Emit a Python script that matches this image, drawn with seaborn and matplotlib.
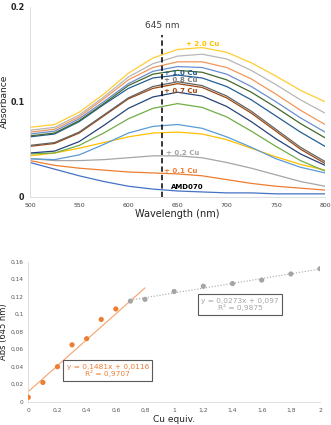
import numpy as np
import pandas as pd
import matplotlib
matplotlib.use("Agg")
import matplotlib.pyplot as plt
import seaborn as sns

sns.set_theme(style="white")
plt.rcParams['font.family'] = ['DejaVu Sans']

# ---------------- data: spectra ----------------
wavelengths = [500, 525, 550, 575, 600, 625, 650, 675, 700, 725, 750, 775, 800]
samples = ["AMD070", "0.1", "0.2", "0.3", "0.4", "0.5", "0.6", "0.7", "0.8",
           "1.0", "1.2", "1.4", "1.6", "1.8", "2.0"]
abs_amd070 = [.036, .029, .022, .016, .011, .008, .006, .005, .004, .004, .003, .003, .003]
abs_01 = [.038, .033, .030, .028, .026, .025, .024, .022, .018, .014, .011, .009, .007]
abs_02 = [.040, .038, .038, .039, .041, .043, .043, .041, .036, .030, .023, .016, .011]
abs_03 = [.043, .046, .051, .057, .063, .067, .068, .066, .060, .051, .042, .034, .028]
abs_04 = [.040, .039, .044, .055, .067, .074, .076, .072, .063, .052, .040, .031, .025]
abs_05 = [.045, .046, .054, .067, .082, .093, .098, .094, .084, .069, .053, .038, .027]
abs_06 = [.046, .048, .058, .075, .093, .105, .110, .106, .095, .079, .061, .045, .033]
abs_07 = [.053, .056, .067, .085, .103, .114, .119, .115, .104, .088, .069, .050, .035]
abs_08 = [.054, .057, .068, .086, .104, .116, .121, .117, .106, .090, .071, .052, .037]
abs_10 = [.063, .066, .079, .097, .114, .125, .128, .125, .116, .102, .085, .068, .053]
abs_12 = [.064, .067, .080, .098, .117, .129, .133, .131, .123, .110, .094, .077, .062]
abs_14 = [.066, .069, .082, .100, .119, .132, .137, .136, .129, .116, .100, .083, .068]
abs_16 = [.068, .071, .084, .103, .123, .136, .142, .142, .136, .124, .108, .091, .076]
abs_18 = [.070, .073, .086, .105, .126, .140, .148, .150, .145, .133, .118, .102, .088]
abs_20 = [.073, .076, .089, .108, .130, .146, .155, .157, .152, .141, .127, .112, .100]
spectra = [abs_amd070, abs_01, abs_02, abs_03, abs_04, abs_05, abs_06, abs_07,
           abs_08, abs_10, abs_12, abs_14, abs_16, abs_18, abs_20]
colors = ["#4472C4", "#ED7D31", "#A5A5A5", "#FFC000", "#5B9BD5", "#70AD47",
          "#264478", "#9E480E", "#636363", "#255E91", "#43682B", "#698ED0",
          "#F1975A", "#B7B7B7", "#FFCD33"]

marker_wl = 634.5
marker_text = "645 nm"
curve_labels = ["+ 2.0 Cu", "+ 1.0 Cu", "+ 0.8 Cu", "+ 0.7 Cu", "+ 0.2 Cu", "+ 0.1 Cu", "AMD070"]
curve_label_x = [659, 636.5, 636.5, 636.5, 638, 636.5, 643.5]
curve_label_y = [0.161, 0.130, 0.123, 0.1115, 0.0455, 0.0272, 0.0105]
curve_label_colors = ["#FFC000", "#255E91", "#7F7F7F", "#9E480E", "#A5A5A5", "#ED7D31", "#000000"]

# ---------------- data: titration ----------------
cu_equiv = [0, 0.1, 0.2, 0.3, 0.4, 0.5, 0.6, 0.7, 0.8, 1.0, 1.2, 1.4, 1.6, 1.8, 2.0]
abs_645 = [0.005, 0.022, 0.040, 0.065, 0.072, 0.094, 0.106, 0.115, 0.117,
           0.126, 0.132, 0.135, 0.139, 0.146, 0.152]
phase = ["low"] * 7 + ["high"] * 8
fit_slopes = [0.1481, 0.0273]
fit_intercepts = [0.0116, 0.097]
fit_ranges = [(0.0, 0.8), (0.7, 2.0)]
fit_texts = ["y = 0,1481x + 0,0116\nR² = 0,9707", "y = 0,0273x + 0,097\nR² = 0,9875"]
bottom_yticks = [0, 0.02, 0.04, 0.06, 0.08, 0.10, 0.12, 0.14, 0.16]
bottom_yticklabels = ["0", "0,02", "0,04", "0,06", "0,08", "0,1", "0,12", "0,14", "0,16"]
bottom_xticks = [0, 0.2, 0.4, 0.6, 0.8, 1.0, 1.2, 1.4, 1.6, 1.8, 2.0]
bottom_xticklabels = ["0", "0,2", "0,4", "0,6", "0,8", "1", "1,2", "1,4", "1,6", "1,8", "2"]

# ---------------- build figure ----------------
fig = plt.figure(figsize=(3.31, 4.25), dpi=100)
ax1 = fig.add_axes([0.0906, 0.5372, 0.8914, 0.4470])
ax2 = fig.add_axes([0.0855, 0.0548, 0.8813, 0.3294])

rows = []
for s, vals in zip(samples, spectra):
    for w, v in zip(wavelengths, vals):
        rows.append({"sample": s, "wl": w, "abs": v})
df = pd.DataFrame(rows)
sns.lineplot(data=df, x="wl", y="abs", hue="sample", hue_order=samples,
             palette=colors, legend=False, linewidth=0.9, ax=ax1, sort=True)

ax1.plot([marker_wl, marker_wl], [0, 0.17], color="black", lw=1.1, ls=(0, (3.5, 2)))
ax1.text(marker_wl, 0.18, marker_text, ha="center", va="center", fontsize=6.5, color="#404040")
for t, x, y, c in zip(curve_labels, curve_label_x, curve_label_y, curve_label_colors):
    ax1.text(x, y, t, ha="left", va="center", fontsize=5, fontweight="bold", color=c)

ax1.set_xlim(500, 800)
ax1.set_ylim(0, 0.2)
ax1.set_xticks([500, 550, 600, 650, 700, 750, 800])
ax1.set_xticklabels(["500", "550", "600", "650", "700", "750", "800"])
ax1.set_yticks([0, 0.1, 0.2])
ax1.set_yticklabels(["0", "0.1", "0.2"])
ax1.tick_params(axis="x", labelsize=4.5, labelcolor="#404040", length=2.5,
                width=0.5, color="#BFBFBF", direction="inout", pad=3)
ax1.tick_params(axis="y", labelsize=5.8, labelcolor="#222222", length=2.5,
                width=0.5, color="#BFBFBF", direction="out", pad=1.5)
for lab in ax1.get_yticklabels():
    lab.set_fontweight("bold")
ax1.set_xlabel("Wavelength (nm)", fontsize=7, color="#222222", labelpad=1)
ax1.set_ylabel("Absorbance", fontsize=6.5, color="#222222")
ax1.yaxis.set_label_coords(-0.072, 0.5)
for sp in ["top", "right"]:
    ax1.spines[sp].set_visible(False)
for sp in ["left", "bottom"]:
    ax1.spines[sp].set_color("#D9D9D9")
    ax1.spines[sp].set_linewidth(0.6)

# bottom panel
dfp = pd.DataFrame({"cu": cu_equiv, "abs": abs_645, "phase": phase})
for (x0, x1), m, b, style, col in zip(fit_ranges, fit_slopes, fit_intercepts,
                                      ["-", ":"], ["#F4A36C", "#A5A5A5"]):
    xs = np.array([x0, x1])
    ax2.plot(xs, m * xs + b, color=col, lw=0.8, ls=style, zorder=1)
sns.scatterplot(data=dfp, x="cu", y="abs", hue="phase", hue_order=["low", "high"],
                palette=["#ED7D31", "#A5A5A5"], s=14, edgecolor="none",
                legend=False, ax=ax2, zorder=3)

ax2.text(0.546, 0.0357, fit_texts[0], ha="center", va="center", fontsize=5.3,
         color="#ED7D31", linespacing=1.1,
         bbox=dict(boxstyle="square,pad=0.45", fc="white", ec="#595959", lw=0.8))
ax2.text(1.452, 0.111, fit_texts[1], ha="center", va="center", fontsize=5.3,
         color="#A5A5A5", linespacing=1.1,
         bbox=dict(boxstyle="square,pad=0.45", fc="white", ec="#595959", lw=0.8))

ax2.set_xlim(0, 2)
ax2.set_ylim(0, 0.16)
ax2.set_xticks(bottom_xticks)
ax2.set_xticklabels(bottom_xticklabels)
ax2.set_yticks(bottom_yticks)
ax2.set_yticklabels(bottom_yticklabels)
ax2.tick_params(axis="x", labelsize=4.3, labelcolor="#595959", length=2.5,
                width=0.5, color="#BFBFBF", direction="inout", pad=3)
ax2.tick_params(axis="y", labelsize=4.2, labelcolor="#595959", length=0, pad=3.5)
ax2.set_xlabel("Cu equiv.", fontsize=6.5, color="#222222", labelpad=2)
ax2.set_ylabel("Abs (645 nm)", fontsize=6, color="#222222")
ax2.yaxis.set_label_coords(-0.068, 0.5)
for sp in ["top", "right"]:
    ax2.spines[sp].set_visible(False)
for sp in ["left", "bottom"]:
    ax2.spines[sp].set_color("#D9D9D9")
    ax2.spines[sp].set_linewidth(0.6)

fig.savefig("out.png", dpi=100, facecolor="white")
